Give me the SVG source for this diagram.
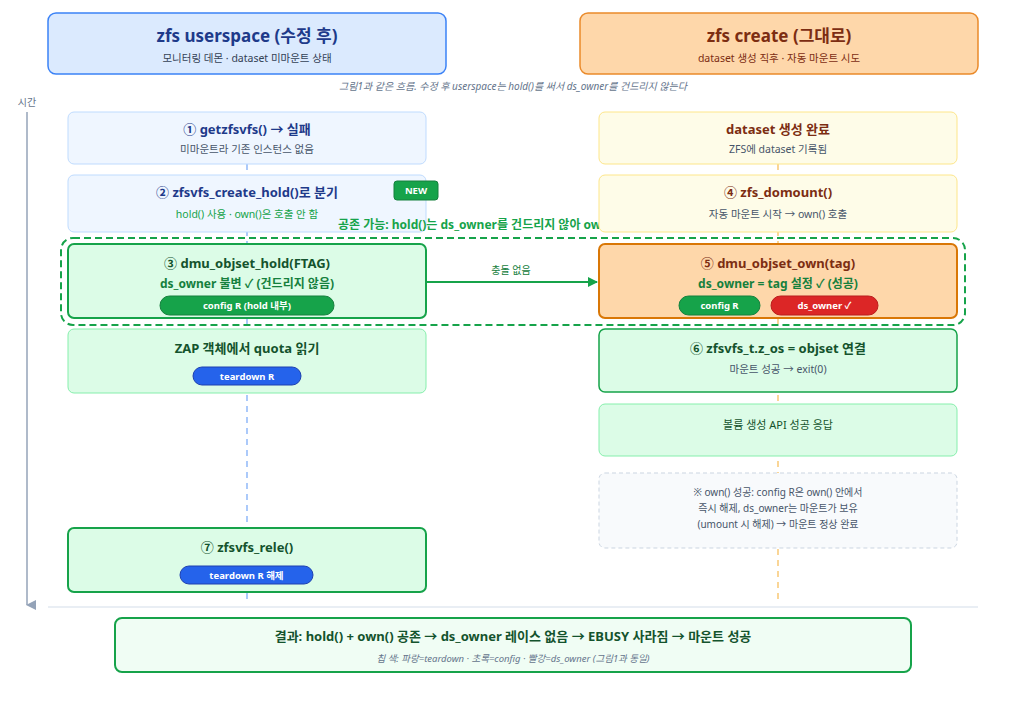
<svg xmlns="http://www.w3.org/2000/svg" width="1014" height="702" viewBox="0 0 1014 702">
<defs>
<style>
text{font-family:"Noto Sans","Noto Sans CJK KR",sans-serif;text-anchor:middle}
.t{font-size:13px;font-weight:bold}
.s{font-size:10.5px;fill:#475569}
.pill{font-size:9.5px;font-weight:bold;fill:#fff}
</style>
<marker id="ah" markerWidth="10" markerHeight="10" refX="9" refY="5" orient="auto" markerUnits="userSpaceOnUse"><path d="M0,0 L10,5 L0,10 z" fill="#16a34a"/></marker>
<marker id="ta" markerWidth="10" markerHeight="10" refX="5" refY="9" orient="auto" markerUnits="userSpaceOnUse"><path d="M0,0 L10,0 L5,10 z" fill="#94a3b8"/></marker>
</defs>
<rect width="1014" height="702" fill="#fff"/>
<g id="header-left"><rect x="48" y="13" width="398" height="61" rx="8" fill="#dbeafe" stroke="#3b82f6" stroke-width="1.5"/><text x="247" y="42" style="font-size:17px;font-weight:bold;fill:#1e3a8a">zfs userspace (수정 후)</text><text x="247" y="62" class="s" style="fill:#334155">모니터링 데몬 · dataset 미마운트 상태</text></g>
<g id="header-right"><rect x="580" y="13" width="398" height="61" rx="8" fill="#fed7aa" stroke="#ea8a2a" stroke-width="1.5"/><text x="779" y="42" style="font-size:17px;font-weight:bold;fill:#7c2d12">zfs create (그대로)</text><text x="779" y="62" class="s" style="fill:#7c2d12">dataset 생성 직후 · 자동 마운트 시도</text></g>
<text x="513" y="90" style="font-size:10px;font-style:italic;fill:#64748b">그림1과 같은 흐름. 수정 후 userspace는 hold()를 써서 ds_owner를 건드리지 않는다</text>
<g id="time"><text x="27" y="106" style="font-size:10px;fill:#64748b">시간</text><line x1="27" y1="112" x2="27" y2="605" stroke="#94a3b8" stroke-width="1.5" marker-end="url(#ta)"/></g>
<g id="connectors">
<line x1="247" y1="164" x2="247" y2="604" stroke="#3b82f6" stroke-width="1.2" stroke-dasharray="6,5" opacity="0.7"/>
<line x1="778" y1="164" x2="778" y2="604" stroke="#f59e0b" stroke-width="1.2" stroke-dasharray="6,5" opacity="0.7"/>
<line x1="427" y1="282" x2="597" y2="282" stroke="#16a34a" stroke-width="2" marker-end="url(#ah)"/>
<text x="511" y="274" style="font-size:10px;fill:#15803d">충돌 없음</text>
</g>
<g id="n1"><rect x="68" y="112" width="358" height="52" rx="6" fill="#eff6ff" stroke="#bfdbfe"/><text x="247" y="134" class="t" style="fill:#1e3a8a">① getzfsvfs() → 실패</text><text x="247" y="153" class="s">미마운트라 기존 인스턴스 없음</text></g>
<g id="n2"><rect x="68" y="175" width="358" height="57" rx="6" fill="#eff6ff" stroke="#bfdbfe"/><text x="247" y="197" class="t" style="fill:#1e3a8a">② zfsvfs_create_hold()로 분기</text><text x="247" y="218" class="s" style="fill:#16a34a">hold() 사용 · own()은 호출 안 함</text><rect x="394" y="181" width="44" height="19" rx="3" fill="#16a34a" stroke="#15803d"/><text x="416" y="194" class="pill">NEW</text></g>
<text x="338" y="229" style="font-size:12px;font-weight:bold;fill:#16a34a;text-anchor:start">공존 가능: hold()는 ds_owner를 건드리지 않아 own() 성공</text>
<g id="n0r"><rect x="599" y="112" width="358" height="52" rx="6" fill="#fefce8" stroke="#fde68a"/><text x="778" y="134" class="t" style="fill:#7c2d12">dataset 생성 완료</text><text x="778" y="153" class="s">ZFS에 dataset 기록됨</text></g>
<g id="n4"><rect x="599" y="175" width="358" height="57" rx="6" fill="#fefce8" stroke="#fde68a"/><text x="778" y="197" class="t" style="fill:#7c2d12">④ zfs_domount()</text><text x="778" y="218" class="s">자동 마운트 시작 → own() 호출</text></g>
<rect x="61" y="238" width="904" height="87" rx="12" fill="none" stroke="#16a34a" stroke-width="2" stroke-dasharray="7,4"/>
<g id="n3"><rect x="68" y="244" width="358" height="74" rx="6" fill="#dcfce7" stroke="#16a34a" stroke-width="2"/><text x="247" y="268" class="t" style="fill:#14532d">③ dmu_objset_hold(FTAG)</text><text x="247" y="288" style="font-size:12px;font-weight:bold;fill:#15803d">ds_owner 불변 ✓ (건드리지 않음)</text><rect x="160" y="296" width="174" height="19" rx="9.5" fill="#16a34a" stroke="#15803d"/><text x="247" y="309" class="pill">config R (hold 내부)</text></g>
<g id="n5"><rect x="599" y="244" width="358" height="74" rx="6" fill="#fed7aa" stroke="#d97706" stroke-width="2"/><text x="778" y="268" class="t" style="fill:#7c2d12">⑤ dmu_objset_own(tag)</text><text x="778" y="288" style="font-size:12px;font-weight:bold;fill:#15803d">ds_owner = tag 설정 ✓ (성공)</text><rect x="679" y="296" width="81" height="19" rx="9.5" fill="#16a34a" stroke="#15803d"/><text x="719.5" y="309" class="pill">config R</text><rect x="771" y="296" width="107" height="19" rx="9.5" fill="#dc2626" stroke="#b91c1c"/><text x="824.5" y="309" class="pill">ds_owner ✓</text></g>
<g id="nzap"><rect x="68" y="329" width="358" height="64" rx="6" fill="#dcfce7" stroke="#86efac"/><text x="247" y="353" class="t" style="fill:#14532d">ZAP 객체에서 quota 읽기</text><rect x="193" y="367" width="108" height="18" rx="9" fill="#2563eb" stroke="#1e40af"/><text x="247" y="380" class="pill">teardown R</text></g>
<g id="n6"><rect x="599" y="329" width="358" height="63" rx="6" fill="#dcfce7" stroke="#16a34a" stroke-width="1.5"/><text x="778" y="353" class="t" style="fill:#14532d">⑥ zfsvfs_t.z_os = objset 연결</text><text x="778" y="373" class="s">마운트 성공 → exit(0)</text></g>
<g id="napi"><rect x="599" y="404" width="358" height="52" rx="6" fill="#dcfce7" stroke="#86efac"/><text x="778" y="429" style="font-size:11px;fill:#14532d">볼륨 생성 API 성공 응답</text></g>
<g id="note"><rect x="599" y="473" width="358" height="75" rx="6" fill="#f8fafc" stroke="#cbd5e1" stroke-dasharray="4,3"/><text x="778" y="496" style="font-size:10px;fill:#475569">※ own() 성공: config R은 own() 안에서</text><text x="778" y="512" style="font-size:10px;fill:#475569">즉시 해제, ds_owner는 마운트가 보유</text><text x="778" y="528" style="font-size:10px;fill:#475569">(umount 시 해제) → 마운트 정상 완료</text></g>
<g id="n7"><rect x="68" y="528" width="358" height="64" rx="6" fill="#dcfce7" stroke="#16a34a" stroke-width="2"/><text x="247" y="552" class="t" style="fill:#14532d">⑦ zfsvfs_rele()</text><rect x="180" y="566" width="133" height="18" rx="9" fill="#2563eb" stroke="#1e40af"/><text x="246.5" y="579" class="pill">teardown R 해제</text></g>
<line x1="48" y1="607" x2="978" y2="607" stroke="#e2e8f0" stroke-width="1.5"/>
<g id="result"><rect x="115" y="618" width="796" height="54" rx="7" fill="#f0fdf4" stroke="#16a34a" stroke-width="2"/><text x="513" y="641" class="t" style="fill:#14532d">결과: hold() + own() 공존 → ds_owner 레이스 없음 → EBUSY 사라짐 → 마운트 성공</text><text x="513" y="662" style="font-size:9.5px;font-style:italic;fill:#64748b">칩 색: 파랑=teardown · 초록=config · 빨강=ds_owner (그림1과 동일)</text></g>
</svg>
